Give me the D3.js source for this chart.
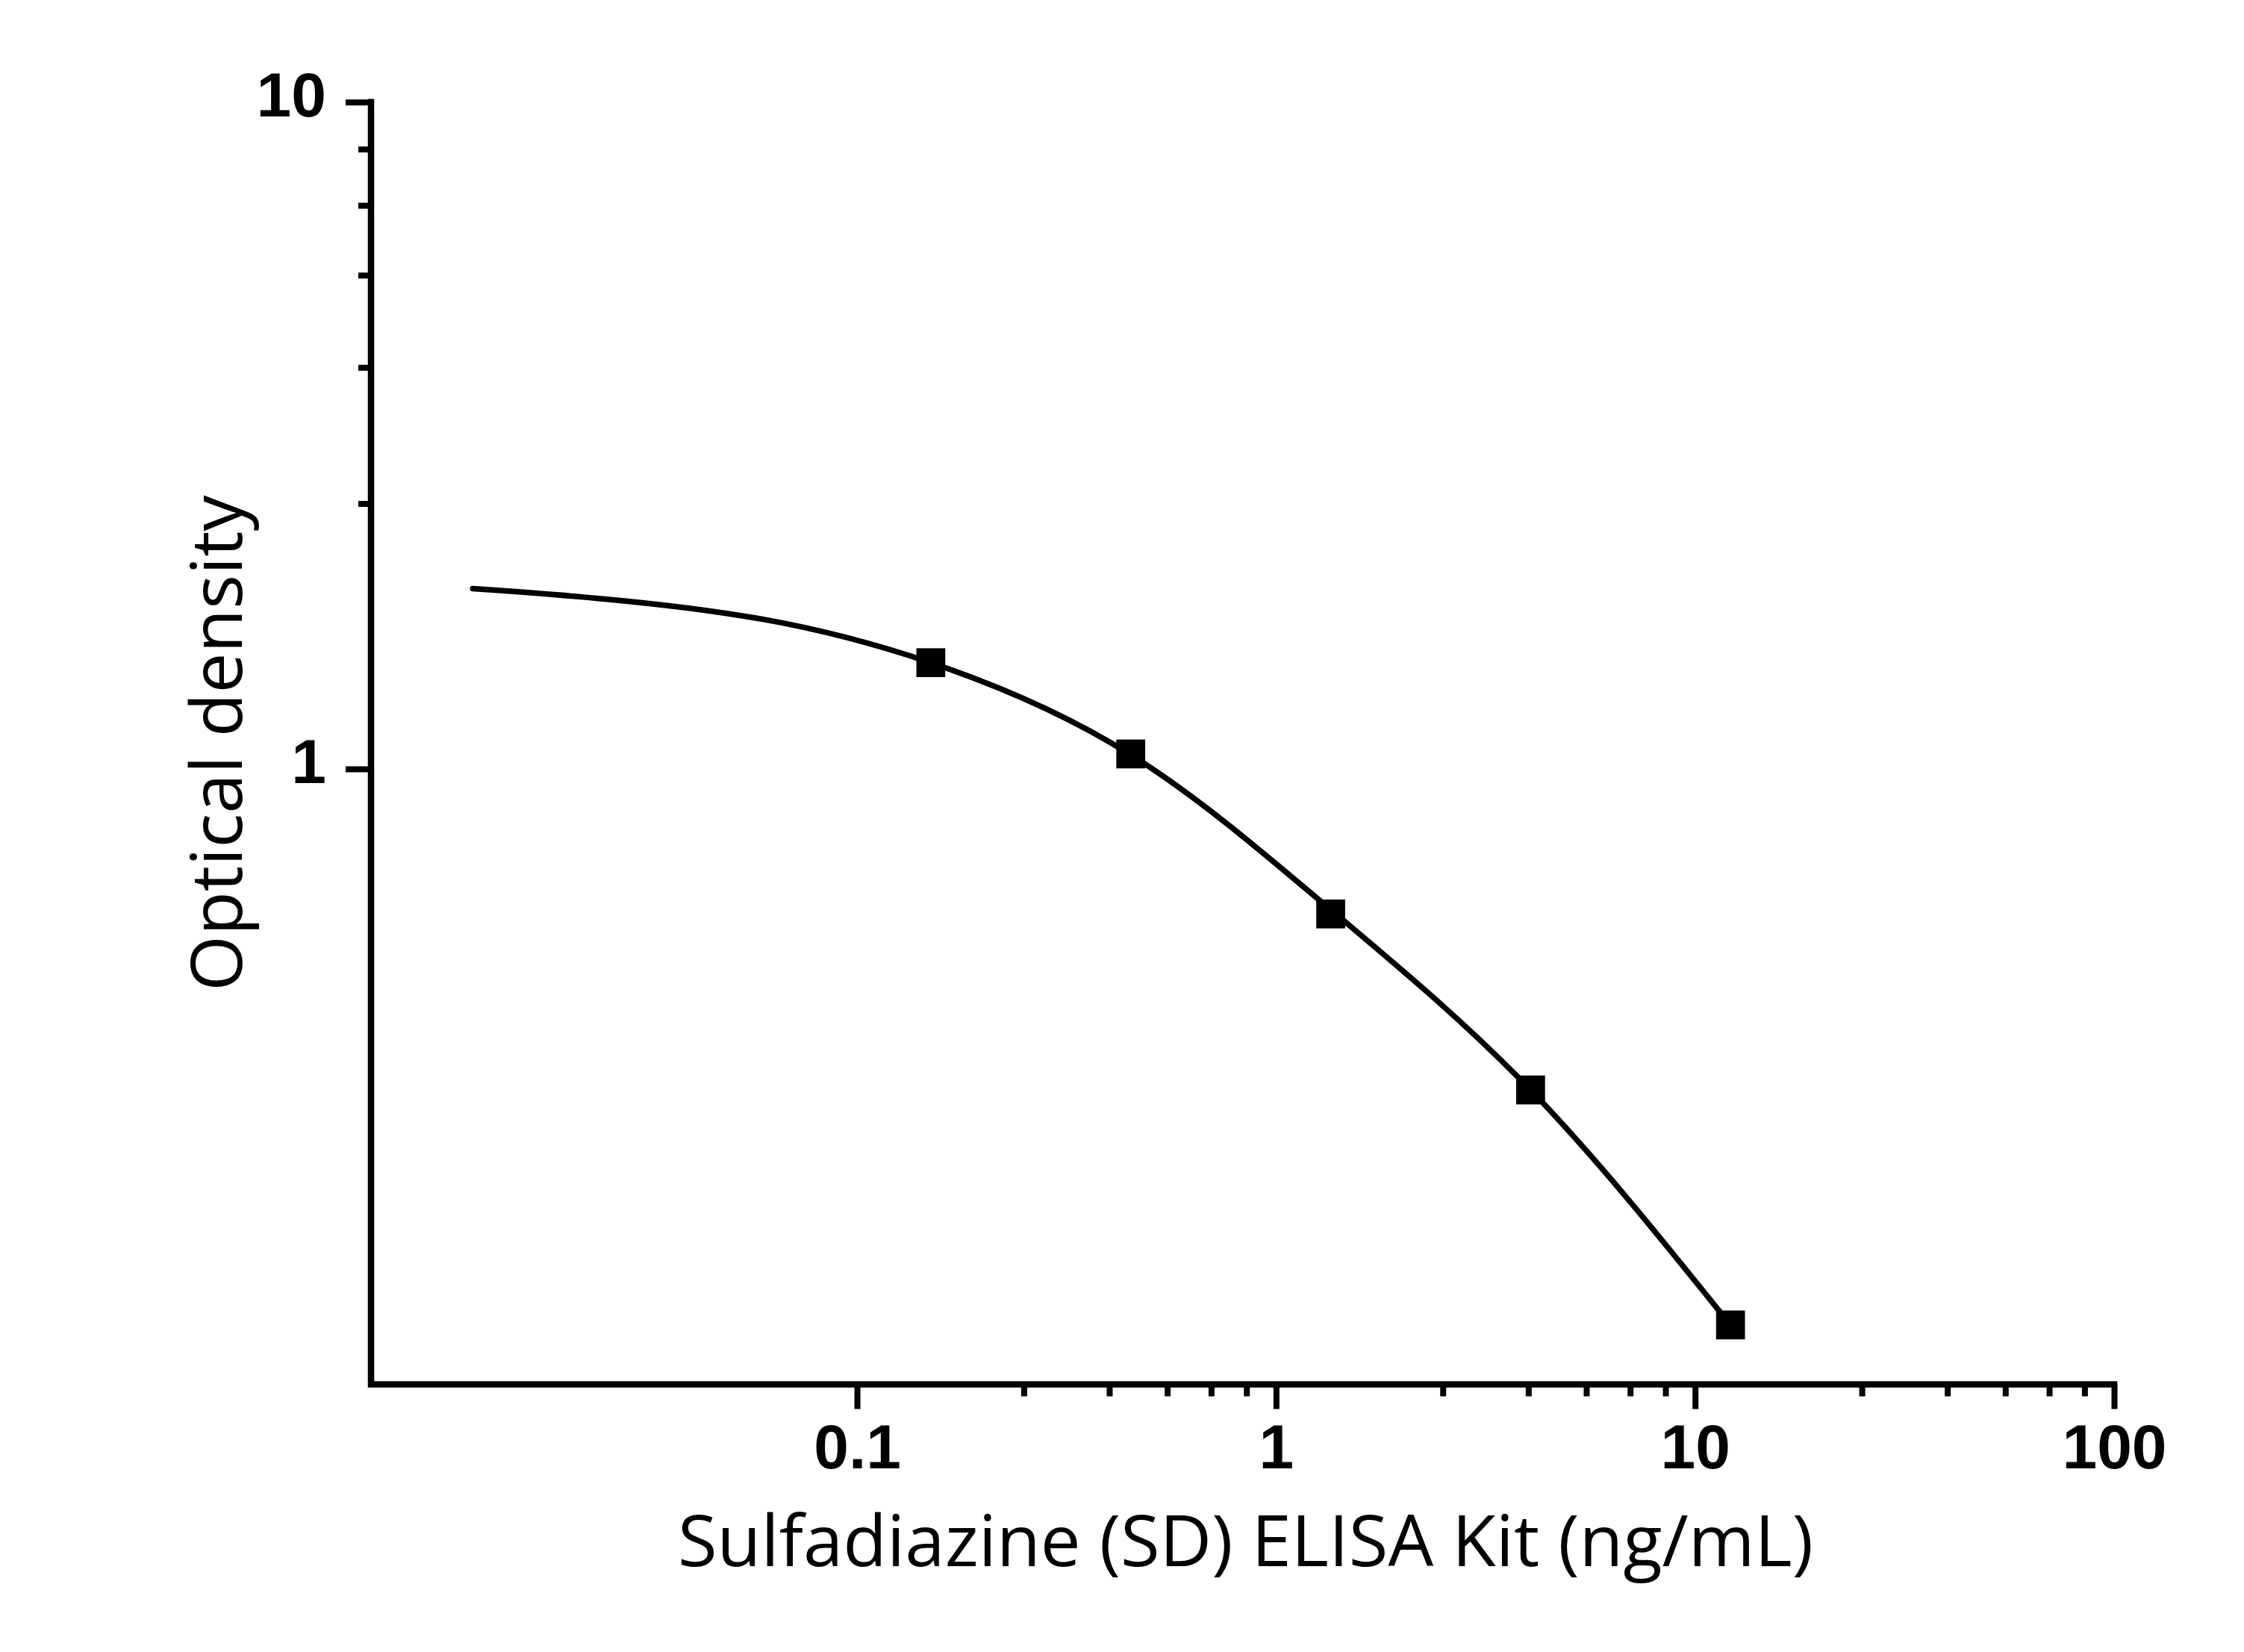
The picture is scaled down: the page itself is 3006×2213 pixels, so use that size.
<!DOCTYPE html>
<html>
<head>
<meta charset="utf-8">
<script src="https://cdn.jsdelivr.net/npm/d3@7"></script>
<style>
  body { margin: 0; background: #fff; }
  svg { display: block; }
</style>
</head>
<body>
<svg id="chart" width="3006" height="2213"></svg>
<script>
// standard points (concentration ng/mL, OD)
var concentrations = [0.15, 0.45, 1.35, 4.05, 12.15];
var densities = [1.443, 1.053, 0.606, 0.330, 0.1466];

// fitted curve
var curveX = [0.0121, 0.025, 0.0594, 0.15, 0.45, 1.35, 4.05, 12.15];
var curveY = [1.863, 1.798, 1.677, 1.443, 1.050, 0.615, 0.330, 0.1466];

// ticks
var xMajor = [0.1, 1, 10, 100];
var xMajorLabels = ["0.1", "1", "10", "100"];
var xMinor = [0.25, 0.4, 0.55, 0.7, 0.85, 2.5, 4, 5.5, 7, 8.5, 25, 40, 55, 70, 85];
var yMajor = [1, 10];
var yMajorLabels = ["1", "10"];
var yMinor = [2.5, 4, 5.5, 7, 8.5];

var xTitle = "Sulfadiazine (SD) ELISA Kit (ng/mL)";
var yTitle = "Optical density";

var svg = d3.select("#chart");

var plotLeft = 497, plotRight = 2832, plotTop = 136.7, plotBottom = 1854.5;

var x = d3.scaleLog()
    .domain([0.00692, 100])
    .range([plotLeft, plotRight]);

var y = d3.scaleLog()
    .domain([0.1194, 10])
    .range([plotBottom, plotTop]);

svg.append("rect")
    .attr("width", 3006)
    .attr("height", 2213)
    .attr("fill", "#fff");

// x axis ticks
var gx = svg.append("g")
    .attr("transform", "translate(0," + plotBottom + ")")
    .call(d3.axisBottom(x)
        .tickValues(xMajor)
        .tickSize(33)
        .tickPadding(20)
        .tickFormat((d, i) => xMajorLabels[i]));
gx.select(".domain").remove();

svg.append("g")
    .attr("transform", "translate(0," + plotBottom + ")")
    .call(d3.axisBottom(x)
        .tickValues(xMinor)
        .tickSize(16)
        .tickFormat(""))
    .select(".domain").remove();

// y axis ticks
var gy = svg.append("g")
    .attr("transform", "translate(" + plotLeft + ",0)")
    .call(d3.axisLeft(y)
        .tickValues(yMajor)
        .tickSize(34)
        .tickPadding(26)
        .tickFormat((d, i) => yMajorLabels[i]));
gy.select(".domain").remove();

svg.append("g")
    .attr("transform", "translate(" + plotLeft + ",0)")
    .call(d3.axisLeft(y)
        .tickValues(yMinor)
        .tickSize(17)
        .tickFormat(""))
    .select(".domain").remove();

svg.selectAll(".tick line")
    .attr("stroke", "#000")
    .attr("stroke-width", 8);

svg.selectAll(".tick text")
    .attr("fill", "#000")
    .attr("font-family", "'Liberation Sans', Arial, sans-serif")
    .attr("font-weight", "bold")
    .attr("font-size", 84);

gx.selectAll(".tick text").attr("dy", "0.71em");
gy.selectAll(".tick text").attr("dy", 19);

// axis lines
svg.append("path")
    .attr("d", "M" + plotLeft + "," + plotTop + "V" + plotBottom + "H" + plotRight)
    .attr("fill", "none")
    .attr("stroke", "#000")
    .attr("stroke-width", 8.5)
    .attr("stroke-linecap", "square");

// fitted curve
var curveData = curveX.map((d, i) => [d, curveY[i]]);
var line = d3.line()
    .x(d => x(d[0]))
    .y(d => y(d[1]))
    .curve(d3.curveNatural);

svg.append("path")
    .datum(curveData)
    .attr("d", line)
    .attr("fill", "none")
    .attr("stroke", "#000")
    .attr("stroke-width", 7.5)
    .attr("stroke-linecap", "round");

// points
var size = 38.7;
svg.append("g")
    .selectAll("rect")
    .data(concentrations)
    .enter()
    .append("rect")
    .attr("x", d => x(d) - size / 2)
    .attr("y", (d, i) => y(densities[i]) - size / 2)
    .attr("width", size)
    .attr("height", size)
    .attr("fill", "#000");

// titles
svg.append("text")
    .attr("x", (plotLeft + plotRight) / 2 + 4)
    .attr("y", 2098)
    .attr("text-anchor", "middle")
    .attr("font-family", "'Open Sans', 'Noto Sans', sans-serif")
    .attr("font-size", 96)
    .attr("fill", "#000")
    .text(xTitle);

svg.append("text")
    .attr("transform", "translate(324," + (plotTop + plotBottom) / 2 + ") rotate(-90)")
    .attr("text-anchor", "middle")
    .attr("font-family", "'Open Sans', 'Noto Sans', sans-serif")
    .attr("font-size", 96)
    .attr("fill", "#000")
    .text(yTitle);
</script>
</body>
</html>
